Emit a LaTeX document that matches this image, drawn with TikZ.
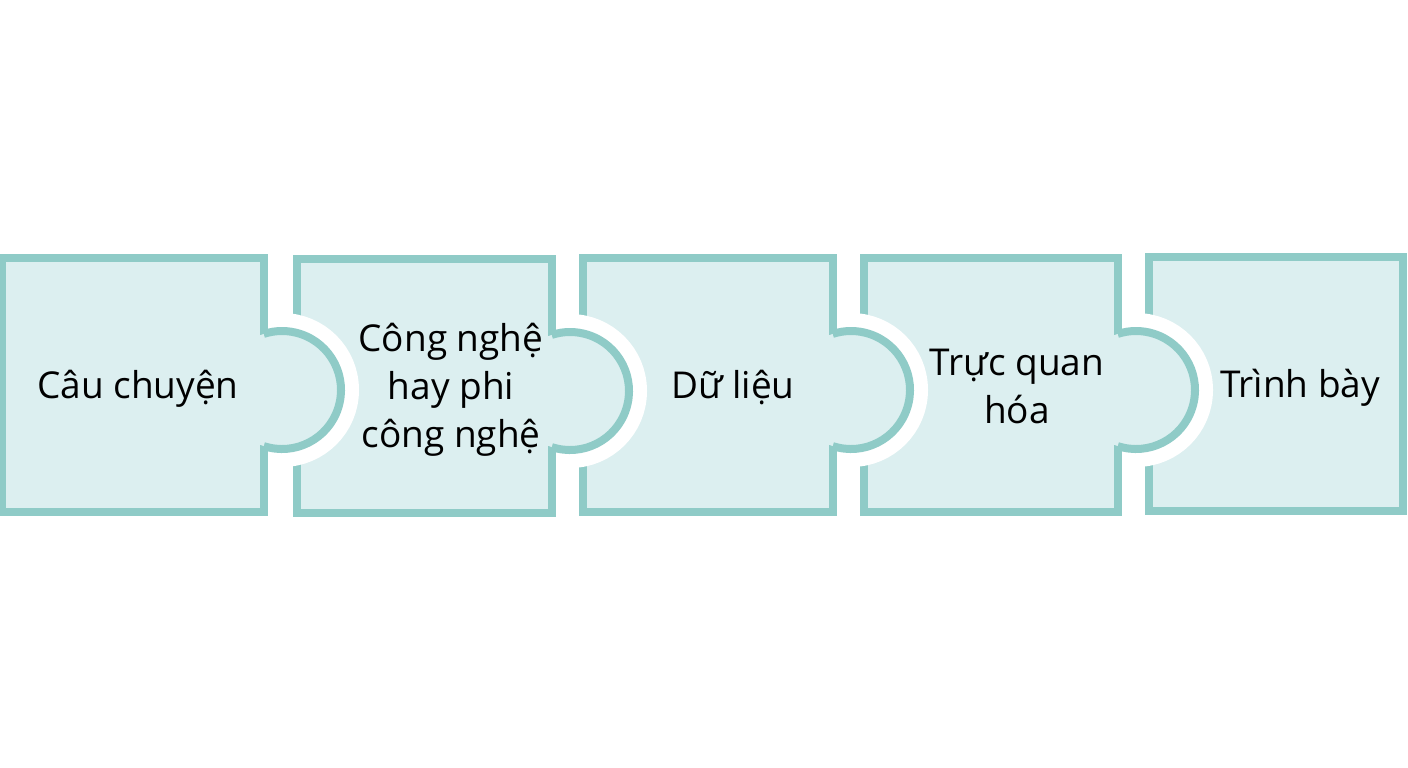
\documentclass[tikz,border=0pt]{standalone}
\usepackage{fontspec}
\setmainfont{Open Sans}
\usetikzlibrary{calc}
\definecolor{tealline}{HTML}{8FCBC7}
\definecolor{tealfill}{HTML}{DCEFF0}
\tikzset{
  piece/.style={draw=tealline,fill=tealfill,line width=8pt,minimum height=254pt,inner sep=0pt,outer sep=0pt},
  word/.style={align=center,font=\fontsize{37}{48}\selectfont,text=black},
}
% knob on the right side of a piece
\newcommand{\knob}[1]{%
  \coordinate (#1c) at ($(#1.east)+(18,5)$);
  \begin{scope}
    \clip ($(#1.east)+(4,-100)$) rectangle ++(110,200);
    \draw[white,line width=36pt] (#1c) circle (59);
  \end{scope}
  \fill[tealfill] (#1c) circle (59);
  \draw[tealline,line width=8pt] (#1c) ++(108:59) arc[start angle=108,end angle=-108,radius=59];
}
\begin{document}
\begin{tikzpicture}[x=1pt,y=-1pt]
\useasboundingbox[fill=white] (0,0) rectangle (1408,768);
% pieces
\node[piece,minimum width=262pt] (cau) at (133,385) {};
\node[piece,minimum width=255pt] (cong) at (424.5,386) {};
\node[piece,minimum width=250pt] (du) at (708,385) {};
\node[piece,minimum width=254pt] (truc) at (991,385) {};
\node[piece,minimum width=254pt] (trinh) at (1276,384) {};
% knobs
\knob{cau}
\knob{cong}
\knob{du}
\knob{truc}
% labels
\node[word,anchor=base] (tcau) at (138,398) {Câu chuyện};
\node[word] (tcong) at (451,390) {Công nghệ\\hay phi\\công nghệ};
\node[word,anchor=base] (tdu) at (733,398) {Dữ liệu};
\node[word] (ttruc) at (1017,386) {Trực quan\\hóa};
\node[word,anchor=base] (ttrinh) at (1300,397) {Trình bày};
\end{tikzpicture}
\end{document}
